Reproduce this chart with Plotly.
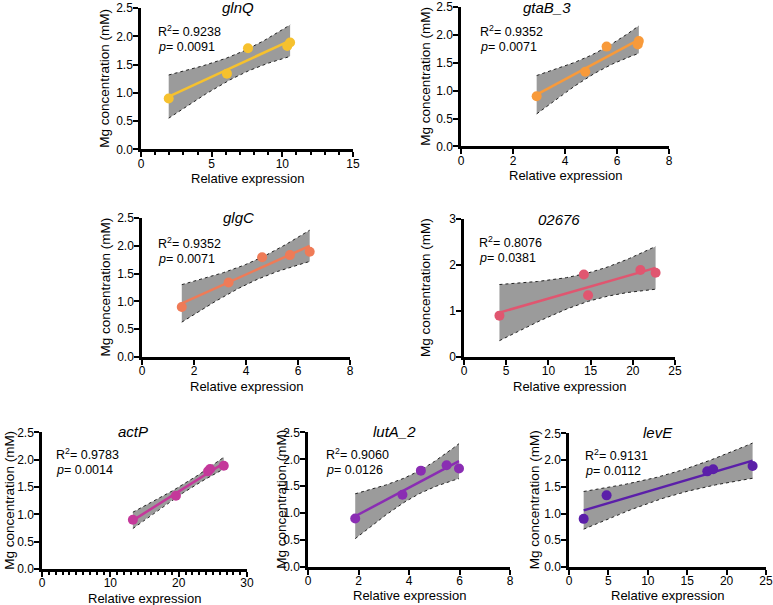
import numpy as np
import plotly.graph_objects as go

# Data
mg = [0.90, 1.34, 1.79, 1.83, 1.89]
genes = ["glnQ", "gtaB_3", "glgC", "02676", "actP", "lutA_2", "levE"]
expr = {
    "glnQ":   [1.96, 6.08, 7.57, 10.35, 10.55],
    "gtaB_3": [2.91, 4.78, 5.60, 6.80, 6.84],
    "glgC":   [1.53, 3.33, 4.62, 5.69, 6.45],
    "02676":  [4.2, 14.7, 14.2, 22.7, 20.9],
    "actP":   [13.3, 19.6, 24.3, 24.6, 26.6],
    "lutA_2": [1.87, 3.74, 4.47, 5.98, 5.49],
    "levE":   [1.86, 4.77, 17.55, 18.3, 23.3],
}
r2_text = ["0.9238", "0.9352", "0.9352", "0.8076", "0.9783", "0.9060", "0.9131"]
p_text = ["0.0091", "0.0071", "0.0071", "0.0381", "0.0014", "0.0126", "0.0112"]
colors = ["#F6C12E", "#F89A3A", "#EF7B57", "#E05670", "#C4389A", "#8A2DB3", "#5B1FA9"]
x_max = [15, 8, 8, 25, 30, 8, 25]
x_dtick = [5, 2, 2, 5, 10, 2, 5]
x_minor = [1, None, None, None, 1, None, None]
y_max = [2.5, 2.5, 2.5, 3, 2.5, 2.5, 2.5]
y_dtick = [0.5, 0.5, 0.5, 1, 0.5, 0.5, 0.5]
y_fmt = [".1f", ".1f", ".1f", "d", ".1f", ".1f", ".1f"]

W, H = 773, 605


def px(X):
    return (X - 2) / 763


def py(Y):
    return 1 - (Y - 8) / 589


# pixel boxes in the target image: x0, x1, ytop, ybottom
boxes = [
    (140, 352, 9, 150),
    (460, 668, 8, 147),
    (141, 349, 218, 357),
    (463, 674, 219, 357),
    (41, 246, 432, 568),
    (307, 509, 432, 566),
    (568, 765, 433, 566),
]
title_pos = [(237, 8), (546, 8), (237, 218), (558, 220), (132, 431), (393, 431), (657, 432)]
text_pos = [(155, 32), (477, 32), (155, 243), (476, 242), (53, 453), (323, 453), (582, 454)]
ytitle_x = [104, 425, 104, 425, 9, 281, 533]

T_CRIT = 3.1824  # t(0.975, df=3)

fig = go.Figure()
font = "Liberation Sans, Arial, sans-serif"
ann = []
for i, g in enumerate(genes):
    n = i + 1
    xa = "x" if n == 1 else f"x{n}"
    ya = "y" if n == 1 else f"y{n}"
    x = np.array(expr[g])
    y = np.array(mg)
    b, a = np.polyfit(x, y, 1)
    xx = np.linspace(x.min(), x.max(), 120)
    yy = a + b * xx
    resid = y - (a + b * x)
    s = np.sqrt(np.sum(resid ** 2) / (len(x) - 2))
    sxx = np.sum((x - x.mean()) ** 2)
    se = s * np.sqrt(1 / len(x) + (xx - x.mean()) ** 2 / sxx)
    lo = yy - T_CRIT * se
    hi = yy + T_CRIT * se
    fig.add_trace(go.Scatter(x=np.concatenate([xx, xx[::-1]]), y=np.concatenate([hi, lo[::-1]]),
                             fill="toself", fillcolor="#9b9b9b", line=dict(width=0),
                             mode="lines", xaxis=xa, yaxis=ya, showlegend=False, hoverinfo="skip"))
    for band in (hi, lo):
        fig.add_trace(go.Scatter(x=xx, y=band, mode="lines",
                                 line=dict(color="#222222", width=1, dash="dot"),
                                 xaxis=xa, yaxis=ya, showlegend=False, hoverinfo="skip"))
    fig.add_trace(go.Scatter(x=xx, y=yy, mode="lines", line=dict(color=colors[i], width=2.5),
                             xaxis=xa, yaxis=ya, showlegend=False))
    fig.add_trace(go.Scatter(x=x, y=y, mode="markers", marker=dict(color=colors[i], size=10),
                             xaxis=xa, yaxis=ya, showlegend=False, cliponaxis=False))

    x0, x1, yt, yb = boxes[i]
    xk = "xaxis" if n == 1 else f"xaxis{n}"
    yk = "yaxis" if n == 1 else f"yaxis{n}"
    xd = dict(domain=[px(x0), px(x1)], anchor=ya, range=[0, x_max[i]], dtick=x_dtick[i], tick0=0,
              showline=True, linecolor="black", linewidth=2.5, ticks="outside", ticklen=5,
              tickwidth=2, tickcolor="black", showgrid=False, zeroline=False,
              ticklabelstandoff=-4,
              tickfont=dict(family=font, size=12, color="black"))
    if x_minor[i]:
        xd["minor"] = dict(dtick=x_minor[i], ticks="outside", ticklen=3, tickwidth=1.5,
                           tickcolor="black", showgrid=False)
    yd = dict(domain=[py(yb), py(yt)], anchor=xa, range=[0, y_max[i]], dtick=y_dtick[i],
              tick0=0, tickformat=y_fmt[i], showline=True, linecolor="black", linewidth=2.5,
              ticks="outside", ticklen=5, tickwidth=2, tickcolor="black", showgrid=False,
              zeroline=False, ticklabelstandoff=-2,
              tickfont=dict(family=font, size=12, color="black"))
    fig.layout[xk] = xd
    fig.layout[yk] = yd

    tx, ty = title_pos[i]
    ann.append(dict(x=px(tx), y=py(ty), xref="paper", yref="paper", text=f"<i>{g}</i>",
                    showarrow=False, xanchor="center", yanchor="middle",
                    font=dict(family=font, size=15, color="black")))
    tpx, tpy = text_pos[i]
    ann.append(dict(x=px(tpx), y=py(tpy), xref="paper", yref="paper",
                    text=f"R<sup>2</sup>= {r2_text[i]}", showarrow=False, xanchor="left",
                    yanchor="middle", font=dict(family=font, size=12.5, color="black")))
    ann.append(dict(x=px(tpx), y=py(tpy + 16), xref="paper", yref="paper",
                    text=f"<i>p</i>= {p_text[i]}", showarrow=False, xanchor="left",
                    yanchor="middle", font=dict(family=font, size=12.5, color="black")))
    ann.append(dict(x=px((x0 + x1) / 2), y=py(yb + 29), xref="paper", yref="paper",
                    text="Relative expression", showarrow=False, xanchor="center",
                    yanchor="middle", font=dict(family=font, size=13, color="black")))
    ann.append(dict(x=px(ytitle_x[i]), y=py((yt + yb) / 2), xref="paper", yref="paper",
                    text="Mg concentration (mM)", showarrow=False, textangle=-90,
                    xanchor="center", yanchor="middle",
                    font=dict(family=font, size=13.5, color="black")))

fig.update_layout(width=W, height=H, margin=dict(l=0, r=0, t=0, b=0),
                  paper_bgcolor="white", plot_bgcolor="white", annotations=ann)
fig.write_html("out.html")
